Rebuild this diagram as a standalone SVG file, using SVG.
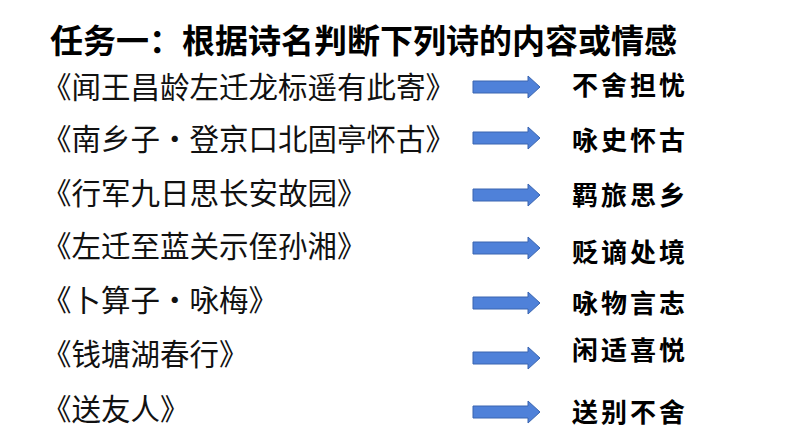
<svg xmlns="http://www.w3.org/2000/svg" width="794" height="447" viewBox="0 0 794 447">
<style>
.t{font-family:"Noto Sans CJK SC",sans-serif;font-size:33px;font-weight:bold;fill:#000}
.l{font-family:"Noto Sans CJK SC",sans-serif;font-size:29.5px;fill:#111}
.r{font-family:"Noto Sans CJK SC",sans-serif;font-size:26px;font-weight:bold;fill:#000;letter-spacing:3px}
.a{fill:#4f81d9;stroke:#3a65b0;stroke-width:1}
</style>
<rect width="794" height="447" fill="#fff"/>
<g id="title"><text class="t" x="50" y="53">任务一：根据诗名判断下列诗的内容或情感</text></g>
<g id="left">
<text class="l" x="42" y="98">《闻王昌龄左迁龙标遥有此寄》</text>
<text class="l" x="42" y="150">《南乡子·登京口北固亭怀古》</text>
<text class="l" x="42" y="204">《行军九日思长安故园》</text>
<text class="l" x="42" y="257">《左迁至蓝关示侄孙湘》</text>
<text class="l" x="42" y="311">《卜算子·咏梅》</text>
<text class="l" x="42" y="365">《钱塘湖春行》</text>
<text class="l" x="42" y="420">《送友人》</text>
</g>
<g id="connectors">
<path class="a" d="M473,81 H528 V76 L540,87 L528,98 V93 H473 Z"/>
<path class="a" d="M473,132 H528 V127 L540,138 L528,149 V144 H473 Z"/>
<path class="a" d="M473,189 H528 V184 L540,195 L528,206 V201 H473 Z"/>
<path class="a" d="M473,242 H528 V237 L540,248 L528,259 V254 H473 Z"/>
<path class="a" d="M473,297 H528 V292 L540,303 L528,314 V309 H473 Z"/>
<path class="a" d="M473,352 H528 V347 L540,358 L528,369 V364 H473 Z"/>
<path class="a" d="M473,406 H528 V401 L540,412 L528,423 V418 H473 Z"/>
</g>
<g id="right">
<text class="r" x="572" y="95">不舍担忧</text>
<text class="r" x="572" y="150">咏史怀古</text>
<text class="r" x="572" y="205">羁旅思乡</text>
<text class="r" x="572" y="262">贬谪处境</text>
<text class="r" x="572" y="313">咏物言志</text>
<text class="r" x="572" y="360">闲适喜悦</text>
<text class="r" x="572" y="422">送别不舍</text>
</g>
</svg>
